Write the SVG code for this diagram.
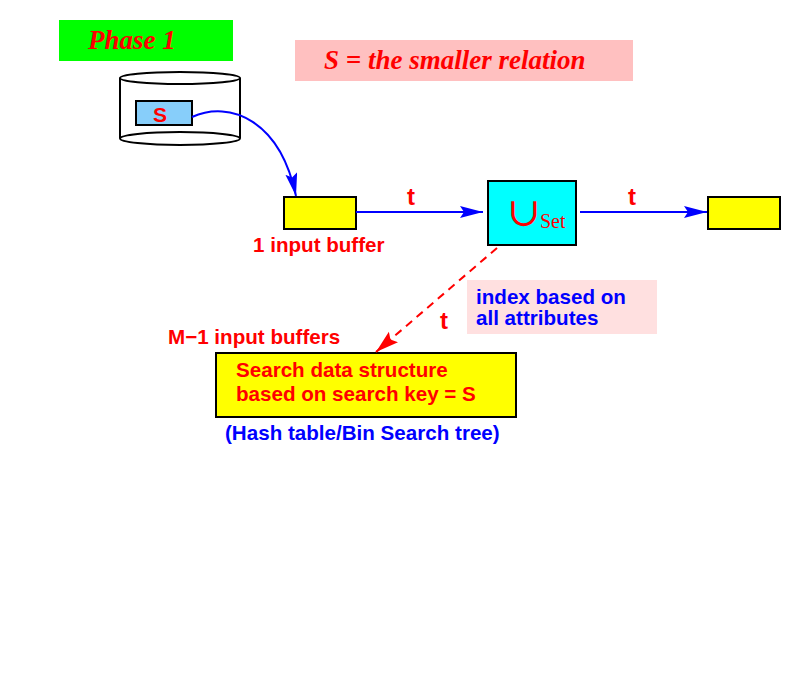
<svg xmlns="http://www.w3.org/2000/svg" width="811" height="693" viewBox="0 0 811 693">
<defs>
<marker id="ab" markerUnits="userSpaceOnUse" markerWidth="24" markerHeight="14" refX="23" refY="6" orient="auto">
<path d="M0,0 L23,6 L0,12 L4,6 z" fill="#0000ff"/>
</marker>
<marker id="ar" markerUnits="userSpaceOnUse" markerWidth="24" markerHeight="16" refX="23" refY="7" orient="auto">
<path d="M0,0 L23,7 L0,14 L4,7 z" fill="#ff0000"/>
</marker>
</defs>
<style>
.box{stroke:#000;stroke-width:2}
.lab{font-family:"Liberation Sans",Arial,sans-serif;font-weight:bold;font-size:20.6px}
.red{fill:#ff0000}
.blue{fill:#0000ff}
.ti{font-family:"Liberation Serif","Times New Roman",serif;font-style:italic;font-weight:bold;font-size:27px;fill:#ff0000}
.t{font-family:"Liberation Sans",Arial,sans-serif;font-weight:bold;font-size:24px;fill:#ff0000}
.conn{fill:none;stroke:#0000ff;stroke-width:2}
</style>
<rect width="811" height="693" fill="#fff"/>
<g id="phase1">
<rect x="59" y="20" width="174" height="41" fill="#00ff00"/>
<text x="88" y="49" class="ti">Phase 1</text>
</g>
<g id="note-s">
<rect x="295" y="40" width="338" height="41" fill="#ffc0c0"/>
<text x="324" y="69" class="ti">S = the smaller relation</text>
</g>
<g id="disk">
<ellipse cx="180" cy="138.5" rx="60" ry="6.5" fill="#fff" stroke="#000" stroke-width="2"/>
<path d="M120,138 L120,78 M240,78 L240,138" stroke="#000" stroke-width="2" fill="none"/>
<ellipse cx="180" cy="78" rx="60" ry="6" fill="#fff" stroke="#000" stroke-width="2"/>
<rect x="136" y="101" width="56" height="24" fill="#87cefa" class="box"/>
<text x="160" y="122" text-anchor="middle" class="lab red" style="font-size:21px">S</text>
</g>
<g id="buf1">
<rect x="284" y="197" width="72" height="32" fill="#ffff00" class="box"/>
<text x="253" y="252" class="lab red">1 input buffer</text>
</g>
<g id="union">
<rect x="488" y="181" width="88" height="64" fill="#00ffff" class="box"/>
<text x="524" y="226" text-anchor="middle" font-family="DejaVu Serif,serif" font-size="40" fill="#ff0000">∪</text>
<text x="540" y="228" font-family="Liberation Serif,'Times New Roman',serif" font-size="20" fill="#ff0000">Set</text>
</g>
<g id="out">
<rect x="708" y="197" width="72" height="32" fill="#ffff00" class="box"/>
</g>
<g id="index-note">
<rect x="467" y="280" width="190" height="54" fill="#ffe0e0"/>
<text x="476" y="304" class="lab blue">index based on</text>
<text x="476" y="325" class="lab blue">all attributes</text>
</g>
<g id="search">
<text x="168" y="344" class="lab red">M−1 input buffers</text>
<rect x="216" y="353" width="300" height="64" fill="#ffff00" class="box"/>
<text x="236" y="377" class="lab red">Search data structure</text>
<text x="236" y="401" class="lab red">based on search key = S</text>
<text x="225" y="440" class="lab blue">(Hash table/Bin Search tree)</text>
</g>
<g id="connectors">
<path d="M192,117 C230,100 280,120 296,196" class="conn" marker-end="url(#ab)"/>
<path d="M356,212 L483,212" class="conn" marker-end="url(#ab)"/>
<path d="M580,212 L707,212" class="conn" marker-end="url(#ab)"/>
<path d="M497,248 L376,352" fill="none" stroke="#ff0000" stroke-width="2" stroke-dasharray="8,6" marker-end="url(#ar)"/>
<text x="407" y="205" class="t">t</text>
<text x="628" y="205" class="t">t</text>
<text x="440" y="329" class="t">t</text>
</g>
</svg>
